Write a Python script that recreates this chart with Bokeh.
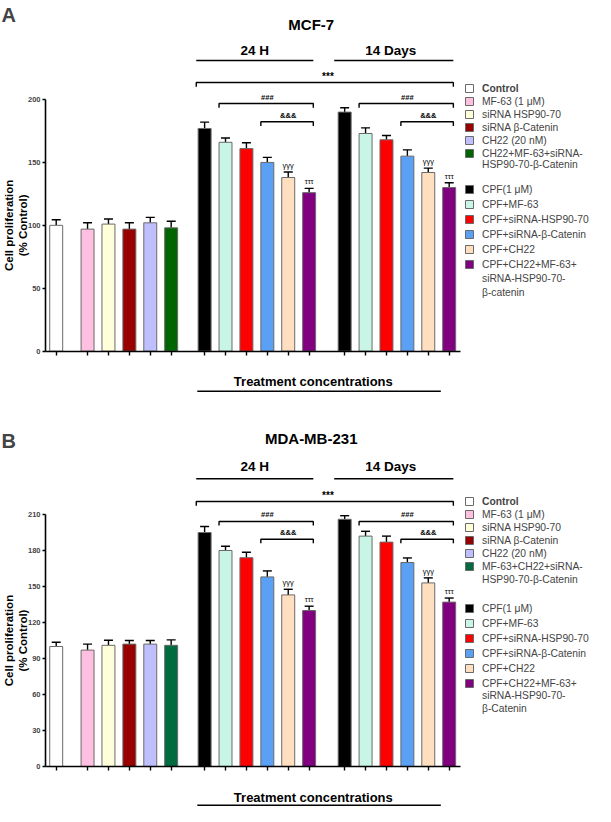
import math
from bokeh.plotting import figure
from bokeh.models import (ColumnDataSource, Legend, LegendItem, LinearAxis, FixedTicker,
                          Label, Whisker, TeeHead, Range1d, CustomJSTickFormatter)
from bokeh.layouts import column
from bokeh.embed import file_html
from bokeh.resources import INLINE
from bokeh.core.properties import value

FONT = "Liberation Sans"

# ---------------- data ----------------
ctrl_labels_A = ["Control", "MF-63 (1 \u03bcM)", "siRNA HSP90-70", "siRNA \u03b2-Catenin", "CH22 (20 nM)",
                 "CH22+MF-63+siRNA-", "HSP90-70-\u03b2-Catenin"]
ctrl_labels_B = ["Control", "MF-63 (1 \u03bcM)", "siRNA HSP90-70", "siRNA \u03b2-Catenin", "CH22 (20 nM)",
                 "MF-63+CH22+siRNA-", "HSP90-70-\u03b2-Catenin"]
cpf_labels_A = ["CPF(1 \u03bcM)", "CPF+MF-63", "CPF+siRNA-HSP90-70", "CPF+siRNA-\u03b2-Catenin", "CPF+CH22",
                "CPF+CH22+MF-63+", "siRNA-HSP90-70-", "\u03b2-catenin"]
cpf_labels_B = ["CPF(1 \u03bcM)", "CPF+MF-63", "CPF+siRNA-HSP90-70", "CPF+siRNA-\u03b2-Catenin", "CPF+CH22",
                "CPF+CH22+MF-63+", "siRNA-HSP90-70-", "\u03b2-Catenin"]

ctrl_A = [100, 97, 101, 97, 102, 98]
ctrl_err_A = [4.5, 5, 4, 5, 4.3, 5.2]
h24_A = [177, 166, 161, 150, 138, 126]
h24_err_A = [5, 3.4, 4.6, 4, 4.4, 3.4]
d14_A = [190, 173, 168, 155, 142, 130]
d14_err_A = [3.4, 4.5, 3.4, 5, 3.5, 3.9]

ctrl_B = [100, 97, 101, 102, 102, 101]
ctrl_err_B = [3.6, 5, 4.2, 3, 3, 4.5]
h24_B = [195, 180, 174, 158, 143, 130]
h24_err_B = [5, 3.6, 4.5, 5, 4.7, 3.6]
d14_B = [206, 192, 187, 170, 153, 137]
d14_err_B = [3, 4, 5, 3.8, 4.2, 3.4]

yticks_A = [0, 50, 100, 150, 200]
yticks_B = [0, 30, 60, 90, 120, 150, 180, 210]

ctrl_colors_A = ["#FFFFFF", "#FFBFE0", "#FFFFD9", "#990000", "#BFBFFF", "#006400"]
ctrl_colors_B = ["#FFFFFF", "#FFBFE0", "#FFFFD9", "#990000", "#BFBFFF", "#006B3F"]
cpf_colors = ["#000000", "#C8F5E6", "#FF0000", "#5AA0F5", "#FFDFBF", "#800080"]

# ---------------- layout constants ----------------
W, H = 595, 403
BAR_W = 0.62
x_ctrl = [0.0] + [1.5 + i for i in range(5)]
x_24 = [7.1 + i for i in range(6)]
x_14 = [13.8 + i for i in range(6)]
X_RANGE = (-2.665, 25.80)
AXIS_X = -0.51
AXIS_END = 19.33
YLABEL_X = -1.92


def bars(p, xs, tops, errs, colors):
    src = ColumnDataSource(dict(x=xs, top=tops, upper=[t + e for t, e in zip(tops, errs)], color=colors))
    r = p.vbar(x="x", top="top", width=BAR_W, source=src, fill_color="color",
               line_color="#6a6a6a", line_width=1)
    w = Whisker(base="x", lower="top", upper="upper", source=src, dimension="height",
                line_color="black", line_width=1.4, lower_head=None,
                upper_head=TeeHead(size=9, line_width=1.4, line_color="black"))
    p.add_layout(w)
    return r, src


def txt(p, x, y, s, size, bold=True, baseline="middle", align="center", angle=0.0, lh=1.0):
    p.text(x=[x], y=[y], text=[s], text_font=value(FONT), text_font_size=size,
           text_font_style="bold" if bold else "normal", text_align=align,
           text_baseline=baseline, text_color="black", angle=angle, text_line_height=lh)


def bracket(p, x0, x1, y, tick):
    p.multi_line(xs=[[x0, x0, x1, x1]], ys=[[y - tick, y, y, y - tick]], line_color="black", line_width=1.4)


def panel(letter, letter_top, title, ctrl, ctrl_err, h24, h24e, d14, d14e, ctrl_labels, cpf_labels,
          ctrl_colors, yticks, y_rng, d, leg):
    p = figure(width=W, height=H, x_range=Range1d(*X_RANGE), y_range=Range1d(*y_rng),
               x_axis_type=None, y_axis_type=None, output_backend="svg", toolbar_location=None,
               min_border=0, outline_line_color=None, background_fill_color="white")

    r_ctrl, _ = bars(p, x_ctrl, ctrl, ctrl_err, ctrl_colors)
    r_24, s24 = bars(p, x_24, h24, h24e, cpf_colors)
    r_14, s14 = bars(p, x_14, d14, d14e, cpf_colors)
    ghost = p.vbar(x=[], top=[], width=0.1, fill_alpha=0, line_alpha=0)

    yax = LinearAxis(fixed_location=AXIS_X, bounds=(yticks[0], yticks[-1]),
                     ticker=FixedTicker(ticks=yticks),
                     major_label_text_font=FONT, major_label_text_font_style="bold",
                     major_label_text_font_size="7.5px", major_label_standoff=2,
                     major_tick_out=3, major_tick_in=0, minor_tick_out=0, minor_tick_in=0,
                     axis_line_width=1.6, major_tick_line_width=1.4)
    p.add_layout(yax, "left")
    xax = LinearAxis(fixed_location=0, bounds=(AXIS_X, AXIS_END),
                     ticker=FixedTicker(ticks=x_ctrl + x_24 + x_14),
                     formatter=CustomJSTickFormatter(code="return ''"),
                     major_tick_out=4, major_tick_in=0, minor_tick_out=0, minor_tick_in=0,
                     axis_line_width=1.6, major_tick_line_width=1.4)
    p.add_layout(xax, "below")

    # y axis title
    txt(p, YLABEL_X, (yticks[0] + yticks[-1]) / 2, "Cell proliferation\n(% Control)", "11.5px",
        angle=math.pi / 2, lh=1.15)

    # panel letter
    p.add_layout(Label(x=1, y=H - letter_top, x_units="screen", y_units="screen", text=letter,
                       text_font=FONT, text_font_style="bold", text_font_size="20px",
                       text_baseline="top"))
    # title and headers
    txt(p, 12.2, d["title"], title, "15px")
    c24 = (x_24[0] + x_24[-1]) / 2 - 0.1
    c14 = (x_14[0] + x_14[-1]) / 2 - 0.3
    txt(p, c24, d["head_text"], "24 H", "13.5px")
    txt(p, c14, d["head_text"], "14 Days", "13.5px")
    p.segment(x0=[x_24[0] - 0.4, x_14[0] - 0.5], x1=[x_24[-1] + 0.2, x_14[-1] + 0.2],
              y0=[d["head_line"]] * 2, y1=[d["head_line"]] * 2, line_color="black", line_width=1.5)

    t = d["tick"]
    bracket(p, x_24[0] - 0.4, x_14[-1] + 0.2, d["star"], t)
    txt(p, (x_24[0] + x_14[-1]) / 2 + 0.05, d["star_text"], "***", "10px")
    for xs in (x_24, x_14):
        bracket(p, xs[1] - 0.31, xs[-1] + 0.2, d["hash"], t)
        txt(p, (xs[1] + xs[-1]) / 2, d["hash_text"], "###", "7.5px")
        bracket(p, xs[3] - 0.31, xs[-1] + 0.2, d["amp"], t)
        txt(p, (xs[3] + xs[-1]) / 2, d["amp_text"], "&&&", "7.5px")

    for xs, src in ((x_24, s24), (x_14, s14)):
        up = src.data["upper"]
        txt(p, xs[4], up[4] + 1.5, "\u03b3\u03b3\u03b3", "7.5px", bold=False, baseline="bottom")
        txt(p, xs[5], up[5] + 1.5, "\u03c4\u03c4\u03c4", "7.5px", bold=False, baseline="bottom")

    # treatment concentrations
    txt(p, 12.3, d["treat_text"], "Treatment concentrations", "13px")
    p.segment(x0=[6.75], x1=[18.4], y0=[d["treat_line"]], y1=[d["treat_line"]],
              line_color="black", line_width=1.5)

    # legends
    common = dict(glyph_width=10, glyph_height=10, label_height=12, label_standoff=8,
                  padding=0, margin=0, border_line_color=None, background_fill_alpha=0,
                  label_text_font=FONT, label_text_font_size="10.3px", label_text_line_height=1.15)
    LX = 464
    l0 = Legend(items=[LegendItem(label=ctrl_labels[0], renderers=[r_ctrl], index=0)],
                location=(LX, leg[0]), label_text_font_style="bold", spacing=0, **common)
    l1 = Legend(items=[LegendItem(label=ctrl_labels[i], renderers=[r_ctrl], index=i) for i in range(1, 6)],
                location=(LX, leg[1]), spacing=1, **common)
    l1c = Legend(items=[LegendItem(label=ctrl_labels[6], renderers=[ghost])],
                 location=(LX, leg[2]), spacing=0, **common)
    l2 = Legend(items=[LegendItem(label=cpf_labels[i], renderers=[r_24], index=i) for i in range(6)],
                location=(LX, leg[3]), spacing=3, **common)
    l2c = Legend(items=[LegendItem(label=cpf_labels[i], renderers=[ghost]) for i in (6, 7)],
                 location=(LX, leg[4]), spacing=leg[5], **common)
    for l in (l0, l1, l1c, l2, l2c):
        p.add_layout(l, "center")
    return p


deco_A = dict(title=259.6, head_text=238.9, head_line=231, star_text=218, star=213.5,
              hash_text=201.6, hash=196.8, amp_text=187.3, amp=182.3,
              treat_text=-24.1, treat_line=-31.8, tick=3.3)
deco_B = dict(title=273.6, head_text=249.6, head_line=239.7, star_text=225.8, star=220.8,
              hash_text=210.3, hash=204.2, amp_text=195, amp=189.4,
              treat_text=-25.8, treat_line=-32.3, tick=3.4)

legend_A = [309, 244, 233, 133, 105, 2]
legend_B = [299, 234, 221, 117, 92, 1]

pA = panel("A", 3, "MCF-7", ctrl_A, ctrl_err_A, h24_A, h24_err_A, d14_A, d14_err_A,
           ctrl_labels_A, cpf_labels_A, ctrl_colors_A, yticks_A, (-41.6, 278.7), deco_A, legend_A)
pB = panel("B", 26, "MDA-MB-231", ctrl_B, ctrl_err_B, h24_B, h24_err_B, d14_B, d14_err_B,
           ctrl_labels_B, cpf_labels_B, ctrl_colors_B, yticks_B, (-33.3, 302.5), deco_B, legend_B)

layout = column(pA, pB, spacing=0)
open("out.html", "w").write(file_html(layout, INLINE))
